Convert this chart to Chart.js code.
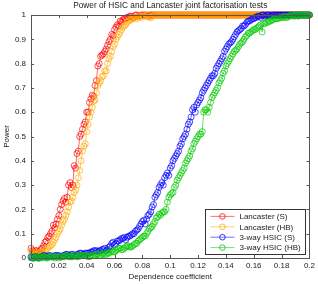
<!DOCTYPE html>
<html>
<head>
<meta charset="utf-8">
<script src="https://cdn.jsdelivr.net/npm/chart.js@4/dist/chart.umd.min.js"></script>
<style>
  html, body { margin: 0; padding: 0; background: #fff; }
  #wrap { width: 318px; height: 284px; }
</style>
</head>
<body>
<div id="wrap"><canvas id="chart" width="318" height="284"></canvas></div>
<script>
// dependence coefficient (x), step 0.001
const dependence = [
    0, 0.001, 0.002, 0.003, 0.004, 0.005, 0.006, 0.007, 0.008, 0.009,
    0.010, 0.011, 0.012, 0.013, 0.014, 0.015, 0.016, 0.017, 0.018, 0.019,
    0.020, 0.021, 0.022, 0.023, 0.024, 0.025, 0.026, 0.027, 0.028, 0.029,
    0.030, 0.031, 0.032, 0.033, 0.034, 0.035, 0.036, 0.037, 0.038, 0.039,
    0.040, 0.041, 0.042, 0.043, 0.044, 0.045, 0.046, 0.047, 0.048, 0.049,
    0.050, 0.051, 0.052, 0.053, 0.054, 0.055, 0.056, 0.057, 0.058, 0.059,
    0.060, 0.061, 0.062, 0.063, 0.064, 0.065, 0.066, 0.067, 0.068, 0.069,
    0.070, 0.071, 0.072, 0.073, 0.074, 0.075, 0.076, 0.077, 0.078, 0.079,
    0.080, 0.081, 0.082, 0.083, 0.084, 0.085, 0.086, 0.087, 0.088, 0.089,
    0.090, 0.091, 0.092, 0.093, 0.094, 0.095, 0.096, 0.097, 0.098, 0.099,
    0.100, 0.101, 0.102, 0.103, 0.104, 0.105, 0.106, 0.107, 0.108, 0.109,
    0.110, 0.111, 0.112, 0.113, 0.114, 0.115, 0.116, 0.117, 0.118, 0.119,
    0.120, 0.121, 0.122, 0.123, 0.124, 0.125, 0.126, 0.127, 0.128, 0.129,
    0.130, 0.131, 0.132, 0.133, 0.134, 0.135, 0.136, 0.137, 0.138, 0.139,
    0.140, 0.141, 0.142, 0.143, 0.144, 0.145, 0.146, 0.147, 0.148, 0.149,
    0.150, 0.151, 0.152, 0.153, 0.154, 0.155, 0.156, 0.157, 0.158, 0.159,
    0.160, 0.161, 0.162, 0.163, 0.164, 0.165, 0.166, 0.167, 0.168, 0.169,
    0.170, 0.171, 0.172, 0.173, 0.174, 0.175, 0.176, 0.177, 0.178, 0.179,
    0.180, 0.181, 0.182, 0.183, 0.184, 0.185, 0.186, 0.187, 0.188, 0.189,
    0.190, 0.191, 0.192, 0.193, 0.194, 0.195, 0.196, 0.197, 0.198, 0.199,
    0.200,
];

const lancasterS = [
    0.04, 0.03, 0.025, 0.03, 0.03, 0.02, 0.025, 0.035, 0.04, 0.05,
    0.065, 0.07, 0.085, 0.09, 0.10, 0.11, 0.135, 0.125, 0.14, 0.16,
    0.175, 0.20, 0.22, 0.235, 0.245, 0.23, 0.25, 0.30, 0.31, 0.29,
    0.30, 0.38, 0.37, 0.43, 0.44, 0.50, 0.51, 0.53, 0.55, 0.56,
    0.60, 0.60, 0.64, 0.655, 0.67, 0.665, 0.71, 0.73, 0.79, 0.80,
    0.83, 0.835, 0.84, 0.85, 0.86, 0.875, 0.89, 0.90, 0.92, 0.915,
    0.94, 0.95, 0.96, 0.955, 0.975, 0.97, 0.98, 0.985, 0.985, 0.99,
    0.99, 0.995, 0.995, 0.99, 0.99, 1, 1, 0.995, 0.995, 1,
    1, 1, 1, 1, 0.995, 1, 1, 1, 1, 1,
    1, 1, 1, 1, 1, 1, 1, 1, 1, 1,
    1, 1, 1, 1, 1, 1, 1, 1, 1, 1,
    1, 1, 1, 1, 1, 1, 1, 1, 1, 1,
    1, 1, 1, 1, 1, 1, 1, 1, 1, 1,
    1, 1, 1, 1, 1, 1, 1, 1, 1, 1,
    1, 1, 1, 1, 1, 1, 1, 1, 1, 1,
    1, 1, 1, 1, 1, 1, 1, 1, 1, 1,
    1, 1, 1, 1, 1, 1, 1, 1, 1, 1,
    1, 1, 1, 1, 1, 1, 1, 1, 1, 1,
    1, 1, 1, 1, 1, 1, 1, 1, 1, 1,
    1, 1, 1, 1, 1, 1, 1, 1, 1, 1,
    1,
];

const lancasterHB = [
    0.03, 0.025, 0.02, 0.015, 0.015, 0.02, 0.02, 0.025, 0.025, 0.02,
    0.03, 0.035, 0.04, 0.045, 0.05, 0.055, 0.065, 0.075, 0.085, 0.10,
    0.11, 0.12, 0.135, 0.15, 0.16, 0.175, 0.19, 0.21, 0.23, 0.235,
    0.25, 0.27, 0.28, 0.30, 0.33, 0.36, 0.40, 0.44, 0.46, 0.47,
    0.52, 0.55, 0.58, 0.60, 0.62, 0.645, 0.65, 0.68, 0.71, 0.72,
    0.73, 0.745, 0.75, 0.77, 0.77, 0.80, 0.82, 0.83, 0.85, 0.87,
    0.88, 0.90, 0.91, 0.92, 0.93, 0.94, 0.95, 0.955, 0.96, 0.97,
    0.975, 0.98, 0.98, 0.985, 0.99, 0.99, 0.985, 0.995, 0.995, 0.99,
    1, 0.995, 0.995, 1, 1, 0.99, 0.99, 0.995, 1, 1,
    1, 1, 1, 1, 1, 1, 1, 1, 1, 1,
    1, 1, 1, 1, 1, 1, 1, 1, 1, 1,
    1, 1, 1, 1, 1, 1, 1, 1, 1, 1,
    1, 1, 1, 1, 1, 1, 1, 1, 1, 1,
    1, 1, 1, 1, 1, 1, 1, 1, 1, 1,
    1, 1, 1, 1, 1, 1, 1, 1, 1, 1,
    1, 1, 1, 1, 1, 1, 1, 1, 1, 1,
    1, 1, 1, 1, 1, 1, 1, 1, 1, 1,
    1, 1, 1, 1, 1, 1, 1, 1, 1, 1,
    1, 1, 1, 1, 1, 1, 1, 1, 1, 1,
    1, 1, 1, 1, 1, 1, 1, 1, 1, 1,
    1,
];

const hsicS = [
    0.005, 0, 0, 0.005, 0.005, 0, 0, 0.005, 0.005, 0.01,
    0.01, 0.005, 0.005, 0.01, 0.01, 0.005, 0.005, 0.01, 0.01, 0.01,
    0.01, 0.005, 0.005, 0.01, 0.01, 0.015, 0.015, 0.01, 0.01, 0.015,
    0.015, 0.01, 0.01, 0.015, 0.015, 0.02, 0.02, 0.015, 0.015, 0.02,
    0.02, 0.02, 0.02, 0.025, 0.025, 0.03, 0.03, 0.03, 0.025, 0.03,
    0.03, 0.035, 0.035, 0.04, 0.03, 0.035, 0.045, 0.05, 0.06, 0.065,
    0.055, 0.06, 0.07, 0.07, 0.075, 0.08, 0.08, 0.085, 0.075, 0.085,
    0.09, 0.09, 0.095, 0.10, 0.10, 0.11, 0.115, 0.12, 0.13, 0.14,
    0.15, 0.155, 0.14, 0.16, 0.175, 0.18, 0.19, 0.21, 0.22, 0.25,
    0.26, 0.27, 0.29, 0.30, 0.31, 0.30, 0.33, 0.34, 0.35, 0.34,
    0.37, 0.38, 0.40, 0.41, 0.42, 0.43, 0.44, 0.46, 0.47, 0.49,
    0.50, 0.51, 0.53, 0.55, 0.56, 0.58, 0.61, 0.62, 0.60, 0.63,
    0.64, 0.65, 0.66, 0.68, 0.69, 0.70, 0.71, 0.72, 0.73, 0.74,
    0.75, 0.75, 0.76, 0.78, 0.79, 0.80, 0.81, 0.82, 0.83, 0.85,
    0.86, 0.87, 0.88, 0.885, 0.89, 0.90, 0.91, 0.92, 0.93, 0.935,
    0.94, 0.945, 0.955, 0.955, 0.96, 0.97, 0.975, 0.975, 0.98, 0.985,
    0.985, 0.99, 0.99, 0.995, 0.995, 0.99, 1, 1, 0.995, 1,
    1, 1, 0.995, 1, 1, 1, 1, 1, 1, 1,
    1, 1, 1, 1, 1, 1, 1, 1, 1, 1,
    1, 1, 1, 1, 1, 1, 1, 1, 1, 1,
    1,
];

const hsicHB = [
    0, 0.005, 0, 0, 0.005, 0, 0.005, 0.005, 0, 0.005,
    0.005, 0, 0, 0.005, 0.005, 0.005, 0.005, 0, 0.005, 0.005,
    0, 0.005, 0.005, 0.005, 0.005, 0.01, 0.01, 0.005, 0.005, 0.005,
    0.005, 0.01, 0.01, 0.005, 0.005, 0.01, 0.01, 0.01, 0.01, 0.01,
    0.01, 0.005, 0.005, 0.01, 0.01, 0.01, 0.01, 0.015, 0.015, 0.01,
    0.01, 0.015, 0.02, 0.015, 0.015, 0.02, 0.02, 0.025, 0.03, 0.025,
    0.025, 0.03, 0.035, 0.04, 0.04, 0.035, 0.035, 0.04, 0.045, 0.05,
    0.05, 0.045, 0.045, 0.05, 0.055, 0.06, 0.06, 0.07, 0.075, 0.08,
    0.085, 0.09, 0.09, 0.10, 0.11, 0.12, 0.125, 0.13, 0.14, 0.15,
    0.165, 0.17, 0.18, 0.175, 0.185, 0.19, 0.19, 0.20, 0.23, 0.25,
    0.26, 0.265, 0.27, 0.29, 0.30, 0.32, 0.33, 0.34, 0.35, 0.36,
    0.37, 0.39, 0.40, 0.41, 0.42, 0.44, 0.45, 0.47, 0.48, 0.49,
    0.50, 0.51, 0.51, 0.52, 0.60, 0.61, 0.61, 0.60, 0.62, 0.64,
    0.66, 0.67, 0.68, 0.69, 0.70, 0.72, 0.73, 0.74, 0.76, 0.77,
    0.79, 0.80, 0.81, 0.82, 0.83, 0.84, 0.85, 0.855, 0.86, 0.87,
    0.88, 0.885, 0.89, 0.90, 0.91, 0.915, 0.925, 0.925, 0.93, 0.935,
    0.94, 0.94, 0.945, 0.95, 0.955, 0.96, 0.93, 0.965, 0.965, 0.97,
    0.97, 0.975, 0.975, 0.98, 0.98, 0.985, 0.985, 0.985, 0.987, 0.99,
    0.99, 0.99, 0.995, 0.99, 0.99, 0.995, 0.995, 1, 1, 0.995,
    1, 1, 0.995, 1, 1, 1, 1, 1, 1, 1,
    1,
];

const chartTitle = 'Power of HSIC and Lancaster joint factorisation tests';
const seriesNames = ['Lancaster (S)', 'Lancaster (HB)', '3-way HSIC (S)', '3-way HSIC (HB)'];
const seriesColors = ['rgb(255,0,0)', 'rgb(255,170,0)', 'rgb(0,0,255)', 'rgb(0,200,0)'];
const xTickLabels = ['0', '0.02', '0.04', '0.06', '0.08', '0.1', '0.12', '0.14', '0.16', '0.18', '0.2'];
const yTickLabels = ['0', '0.1', '0.2', '0.3', '0.4', '0.5', '0.6', '0.7', '0.8', '0.9', '1'];

const FONT = "'Liberation Sans', Arial, Helvetica, sans-serif";
const AXIS_COLOR = '#555';
const TEXT_COLOR = '#222';

function toPoints(ys) {
    return ys.map((y, i) => ({ x: dependence[i], y }));
}

// frame + inward ticks on all four sides, matlab style
const frameTicks = {
    id: 'frameTicks',
    afterDatasetsDraw(chart) {
        const { ctx, chartArea: a, scales } = chart;
        const len = 3;
        ctx.save();
        ctx.strokeStyle = AXIS_COLOR;
        ctx.lineWidth = 1;
        ctx.beginPath();
        scales.x.ticks.forEach((t) => {
            const px = Math.round(scales.x.getPixelForValue(t.value)) + 0.5;
            ctx.moveTo(px, a.bottom);
            ctx.lineTo(px, a.bottom - len);
            ctx.moveTo(px, a.top);
            ctx.lineTo(px, a.top + len);
        });
        scales.y.ticks.forEach((t) => {
            const py = Math.round(scales.y.getPixelForValue(t.value)) + 0.5;
            ctx.moveTo(a.left, py);
            ctx.lineTo(a.left + len, py);
            ctx.moveTo(a.right, py);
            ctx.lineTo(a.right - len, py);
        });
        ctx.stroke();
        ctx.strokeRect(Math.round(a.left) + 0.5, Math.round(a.top) + 0.5,
            Math.round(a.right - a.left), Math.round(a.bottom - a.top));
        // title centred over the axes box
        ctx.fillStyle = TEXT_COLOR;
        ctx.font = '8.3px ' + FONT;
        ctx.textAlign = 'center';
        ctx.textBaseline = 'middle';
        ctx.fillText(chartTitle, (a.left + a.right) / 2, 5.5);
        ctx.restore();
    },
};

// legend box in the lower right corner, line + circle marker
const boxLegend = {
    id: 'boxLegend',
    afterDraw(chart) {
        const { ctx, chartArea: a } = chart;
        const w = 100, rowH = 10.4;
        const h = rowH * seriesNames.length + 3;
        const x0 = a.right - 4 - w, y0 = a.bottom - 4 - h;
        ctx.save();
        ctx.fillStyle = '#fff';
        ctx.fillRect(x0, y0, w, h);
        ctx.strokeStyle = '#333';
        ctx.lineWidth = 1;
        ctx.strokeRect(Math.round(x0) + 0.5, Math.round(y0) + 0.5, Math.round(w), Math.round(h));
        ctx.font = '8px ' + FONT;
        ctx.textBaseline = 'middle';
        seriesNames.forEach((name, i) => {
            const cy = y0 + 7 + i * rowH;
            ctx.strokeStyle = seriesColors[i];
            ctx.globalAlpha = 0.55;
            ctx.lineWidth = 1;
            ctx.beginPath();
            ctx.moveTo(x0 + 5, cy);
            ctx.lineTo(x0 + 29, cy);
            ctx.stroke();
            ctx.globalAlpha = 1;
            ctx.lineWidth = 0.8;
            ctx.beginPath();
            ctx.arc(x0 + 17, cy, 2.8, 0, Math.PI * 2);
            ctx.stroke();
            ctx.fillStyle = TEXT_COLOR;
            ctx.fillText(name, x0 + 34, cy + 0.5);
        });
        ctx.restore();
    },
};

const allSeries = [lancasterS, lancasterHB, hsicS, hsicHB];

new Chart(document.getElementById('chart'), {
    type: 'line',
    data: {
        datasets: allSeries.map((ys, i) => ({
            label: seriesNames[i],
            data: toPoints(ys),
            borderColor: seriesColors[i],
            backgroundColor: 'rgba(0,0,0,0)',
            borderWidth: 0.6,
            pointStyle: 'circle',
            pointRadius: 3,
            pointBorderWidth: 0.7,
            pointBackgroundColor: 'rgba(0,0,0,0)',
            pointBorderColor: seriesColors[i],
            tension: 0,
            clip: false,
            order: allSeries.length - 1 - i,
        })),
    },
    options: {
        responsive: false,
        animation: false,
        layout: { padding: { left: 0, right: 7, top: 15, bottom: 0 } },
        plugins: {
            legend: { display: false },
            tooltip: { enabled: false },
            title: { display: false },
        },
        scales: {
            x: {
                type: 'linear',
                min: 0,
                max: 0.2,
                ticks: {
                    stepSize: 0.02,
                    color: TEXT_COLOR,
                    font: { family: FONT, size: 8 },
                    padding: 3,
                    maxRotation: 0,
                    callback: (v, i) => xTickLabels[i],
                },
                grid: { display: false, drawTicks: false },
                border: { display: false },
                title: {
                    display: true,
                    text: 'Dependence coefficient',
                    color: TEXT_COLOR,
                    font: { family: FONT, size: 8 },
                    padding: { top: 0, bottom: 2 },
                },
                afterFit: (scale) => { scale.height = 26; },
            },
            y: {
                type: 'linear',
                min: 0,
                max: 1,
                ticks: {
                    stepSize: 0.1,
                    color: TEXT_COLOR,
                    font: { family: FONT, size: 8 },
                    padding: 5,
                    callback: (v, i) => yTickLabels[i],
                },
                grid: { display: false, drawTicks: false },
                border: { display: false },
                title: {
                    display: true,
                    text: 'Power',
                    color: TEXT_COLOR,
                    font: { family: FONT, size: 8 },
                    padding: { top: 2, bottom: 0 },
                },
                afterFit: (scale) => { scale.width = 31; },
            },
        },
    },
    plugins: [frameTicks, boxLegend],
});
</script>
</body>
</html>
